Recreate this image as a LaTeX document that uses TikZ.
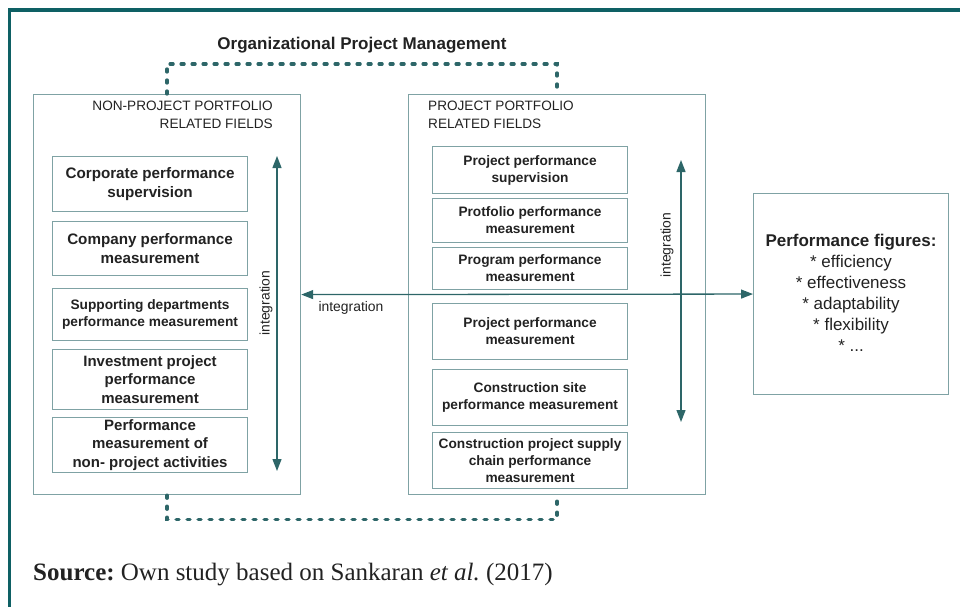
\documentclass[tikz,border=0pt]{standalone}
\usepackage{fontspec}
\setmainfont{Liberation Serif}
\setsansfont{Liberation Sans}
\usetikzlibrary{positioning,arrows.meta}

\definecolor{frameteal}{HTML}{0E6064}
\definecolor{boxline}{HTML}{7FA2A4}
\definecolor{arrowteal}{HTML}{2D6668}
\definecolor{inktext}{HTML}{222222}

\tikzset{
  field/.style={draw=boxline, line width=1.2pt, anchor=north west, inner sep=0pt},
  fieldlabel/.style={font=\sffamily\fontsize{13.6}{17.5}\selectfont, text=inktext, inner sep=0pt},
  metric/.style={draw=boxline, line width=1.1pt, anchor=north west, minimum width=195,
                 align=center, inner sep=0pt, text=inktext},
  bigtext/.style={font=\sffamily\bfseries\fontsize{15.2}{19}\selectfont},
  midtext/.style={font=\sffamily\bfseries\fontsize{15}{18.5}\selectfont},
  smalltext/.style={font=\sffamily\bfseries\fontsize{13.7}{17}\selectfont},
  link/.style={draw=arrowteal, line width=1.3pt, {Triangle[length=12pt,width=9pt]}-{Triangle[length=12pt,width=9pt]}},
  linklabel/.style={font=\sffamily\fontsize{13.9}{16}\selectfont, text=inktext, inner sep=0pt},
  orgdash/.style={draw=arrowteal, line width=3.3pt, dash pattern=on 3pt off 8pt, line cap=round},
}

\begin{document}
\frenchspacing
\begin{tikzpicture}[x=1pt,y=-1pt]
\useasboundingbox (0,0) rectangle (960,607);
% outer frame, top and left only
\draw[frameteal, line width=3.5pt] (9.5,607) -- (9.5,10) -- (960,10);

\node[font=\sffamily\bfseries\fontsize{17}{20}\selectfont, text=inktext] (opm) at (362,45) {Organizational Project Management};

% the two groups of fields
\node[field, minimum width=267, minimum height=400] (nonpf) at (33,94) {};
\node[field, minimum width=297, minimum height=400] (pf) at (408,94) {};
\node[fieldlabel, anchor=north east, align=right] (nonpflabel) at (273,101) {NON-PROJECT PORTFOLIO\\RELATED FIELDS};
\node[fieldlabel, anchor=north west, align=left] (pflabel) at (428,101) {PROJECT PORTFOLIO\\RELATED FIELDS};

% non-project portfolio side
\node[metric, bigtext, minimum height=55] (corp) at (52,156) {Corporate performance\\supervision};
\node[metric, bigtext, minimum height=54] (comp) at (52,221) {Company performance\\measurement};
\node[metric, smalltext, minimum height=52] (supp) at (52,288) {Supporting departments\\performance measurement};
\node[metric, midtext, minimum height=60] (inv) at (52,349) {Investment project\\performance\\measurement};
\node[metric, midtext, minimum height=55] (nonact) at (52,417) {Performance\\measurement of\\non- project activities};

% project portfolio side
\node[metric, smalltext, minimum height=47] (projsup) at (432,146) {Project performance\\supervision};
\node[metric, smalltext, minimum height=44] (portf) at (432,198) {Protfolio performance\\measurement};
\node[metric, smalltext, minimum height=42] (prog) at (432,247) {Program performance\\measurement};
\node[metric, smalltext, minimum height=56] (projmeas) at (432,303) {Project performance\\measurement};
\node[metric, smalltext, minimum height=56] (site) at (432,369) {Construction site\\performance measurement};
\node[metric, smalltext, minimum height=56] (chain) at (432,432) {Construction project supply\\chain performance\\measurement};

% result
\node[metric, minimum width=195, minimum height=201] (perf) at (753,193) {};
\node[font=\sffamily\fontsize{17}{21}\selectfont, text=inktext, align=center] (perftext) at (851,293)
  {\textbf{Performance figures:}\\* efficiency\\* effectiveness\\* adaptability\\* flexibility\\* ...};

% integration arrows
\coordinate (lefttop) at (277,156);
\coordinate (leftbot) at (277,471);
\coordinate (righttop) at (681,160);
\coordinate (rightbot) at (681,422);
\draw[link] (lefttop) -- (leftbot);
\draw[link] (righttop) -- (rightbot);
\draw[link] (nonpf.east) -- (perf.west);
\node[linklabel, rotate=90] (intleft) at (266,303) {integration};
\node[linklabel, rotate=90] (intright) at (667,245) {integration};
\node[linklabel] (intmid) at (351,308) {integration};

% organizational project management bracket
\draw[orgdash] (nonpf.north) -- ++(0,-30) -| (pf.north);
\draw[orgdash] (nonpf.south) -- ++(0,24) -| (pf.south);

\node[anchor=base west, font=\fontsize{25}{28}\selectfont, text=inktext, inner sep=0pt] (src) at (33,580)
  {\textbf{Source:} Own study based on Sankaran \textit{et al.} (2017)};
\end{tikzpicture}
\end{document}
